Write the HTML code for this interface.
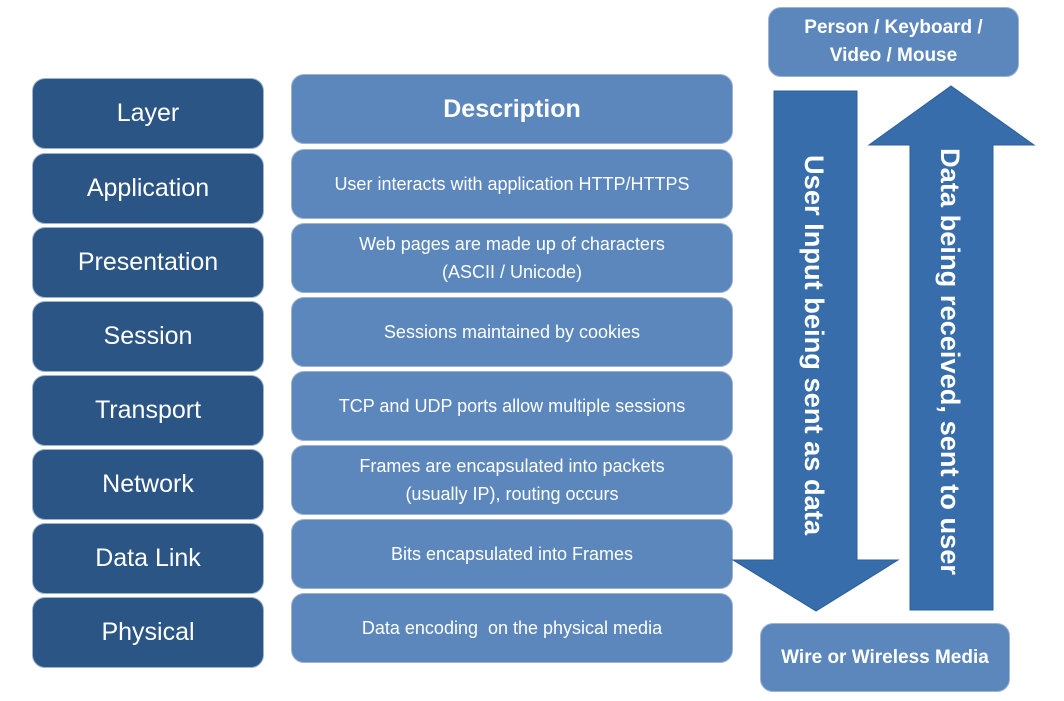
<!DOCTYPE html>
<html><head><meta charset="utf-8"><style>
body{margin:0;width:1064px;height:701px;background:#fff;position:relative;overflow:hidden;font-family:"Liberation Sans",sans-serif}
.b{position:absolute;border-radius:13px;color:#fff;display:flex;align-items:center;justify-content:center;text-align:center;box-sizing:border-box;border:1px solid #9fb3cc}
.l{left:32px;width:232px;height:71px;background:#2A5585;font-size:25px}
.d{left:291px;width:442px;height:70px;background:#5B87BD;font-size:18px;line-height:28px}
</style></head><body>
<div class="b l" style="top:78px">Layer</div>
<div class="b l" style="top:153px">Application</div>
<div class="b l" style="top:227px">Presentation</div>
<div class="b l" style="top:301px">Session</div>
<div class="b l" style="top:375px">Transport</div>
<div class="b l" style="top:449px">Network</div>
<div class="b l" style="top:523px">Data Link</div>
<div class="b l" style="top:597px">Physical</div>

<div class="b d" style="top:74px;font-size:25px;font-weight:bold">Description</div>
<div class="b d" style="top:149px">User interacts with application HTTP/HTTPS</div>
<div class="b d" style="top:223px">Web pages are made up of characters<br>(ASCII / Unicode)</div>
<div class="b d" style="top:297px">Sessions maintained by cookies</div>
<div class="b d" style="top:371px">TCP and UDP ports allow multiple sessions</div>
<div class="b d" style="top:445px">Frames are encapsulated into packets<br>(usually IP), routing occurs</div>
<div class="b d" style="top:519px">Bits encapsulated into Frames</div>
<div class="b d" style="top:593px">Data encoding&nbsp; on the physical media</div>

<svg style="position:absolute;left:0;top:0" width="1064" height="701">
<polygon points="774,91 857,91 857,560 898,560 816,611 733,560 774,560" fill="#376DAA" stroke="#2d5f99"/>
<polygon points="910,610 993,610 993,145 1034,145 951,86 869,145 910,145" fill="#376DAA" stroke="#2d5f99"/>
<text x="0" y="0" transform="translate(805,155) rotate(90)" fill="#fff" font-size="27" font-weight="bold" font-family="Liberation Sans" textLength="380" lengthAdjust="spacingAndGlyphs">User Input being sent as data</text>
<text x="0" y="0" transform="translate(941,148) rotate(90)" fill="#fff" font-size="27" font-weight="bold" font-family="Liberation Sans" textLength="427" lengthAdjust="spacingAndGlyphs">Data being received, sent to user</text>
</svg>

<div class="b" style="left:768px;top:7px;width:251px;height:70px;background:#5B87BD;font-size:19px;font-weight:bold;line-height:28px">Person / Keyboard /<br>Video / Mouse</div>
<div class="b" style="left:760px;top:623px;width:250px;height:69px;background:#5B87BD;font-size:19px;font-weight:bold">Wire or Wireless Media</div>
</body></html>
